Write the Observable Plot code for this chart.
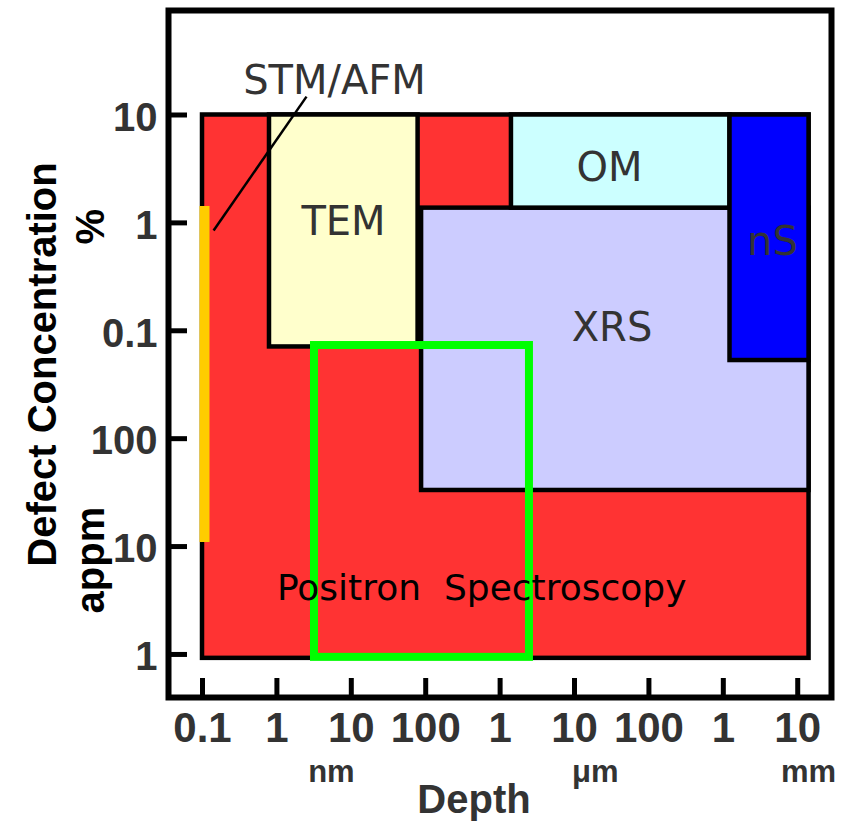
<!DOCTYPE html>
<html>
<head>
<meta charset="utf-8">
<script src="https://cdn.jsdelivr.net/npm/d3@7"></script>
<script src="https://cdn.jsdelivr.net/npm/@observablehq/plot@0.6"></script>
<style>
  html, body { margin: 0; padding: 0; background: #fff; }
  #chart svg { display: block; }
  #chart svg text { white-space: pre; }
</style>
</head>
<body>
<div id="chart"></div>
<script>
// ---------- Data ----------
// Depth axis (metres, log scale)
const depthTicks = [1e-10, 1e-9, 1e-8, 1e-7, 1e-6, 1e-5, 1e-4, 1e-3, 1e-2];
const depthTickLabels = ["0.1", "1", "10", "100", "1", "10", "100", "1", "10"];
const depthUnits = ["nm", "μm", "mm"];
const depthUnitAt = [5.4e-9, 1.9e-5, 1.4e-2];

// Defect concentration axis (atomic fraction, log scale)
const concTicks = [1e-1, 1e-2, 1e-3, 1e-4, 1e-5, 1e-6];
const concTickLabels = ["10", "1", "0.1", "100", "10", "1"];
const concUnits = ["%", "appm"];
const concUnitAt = [9.2e-3, 7.5e-6];

// Technique regions (depth range x concentration range)
const techniques = ["Positron Spectroscopy", "XRS", "OM", "TEM", "nS"];
const depthFrom = [1.0e-10, 8.8e-8, 1.42e-6, 7.95e-10, 1.23e-3];
const depthTo   = [1.42e-2, 1.42e-2, 1.23e-3, 7.9e-8, 1.42e-2];
const concHigh  = [0.1, 1.37e-2, 0.1, 0.1, 0.1];
const concLow   = [9.2e-7, 3.31e-5, 1.37e-2, 7.08e-4, 5.3e-4];

// Region labels
const labelNames = ["STM/AFM", "TEM", "OM", "nS", "XRS"];
const labelDepth = [5.94e-9, 7.85e-9, 2.95e-5, 4.58e-3, 3.19e-5];
const labelConc  = [0.158, 7.64e-3, 2.42e-2, 4.99e-3, 7.96e-4];
const positronLabel = "Positron\u00a0\u00a0Spectroscopy";
const positronDepth = 1e-9;
const positronConc = 3.17e-6;

// STM/AFM pointer line
const stmDepth = [1.41e-10, 2.5e-9];
const stmConc  = [8.5e-3, 0.148];

// Yellow bar (surface technique at 0.1 nm)
const barDepth = 1e-10;
const barConc  = [1.42e-2, 1.09e-5];

// Green highlighted window
const greenDepth = [3.2e-9, 2.48e-6];
const greenConc  = [7.3e-4, 9.4e-7];

// ---------- Styles ----------
const techColors = ["#ff3333", "#ccccff", "#ccffff", "#ffffcc", "#0000ff"];

// ---------- Tables ----------
const regions = techniques.map((t, i) => ({
  name: t, x1: depthFrom[i], x2: depthTo[i], y1: concHigh[i], y2: concLow[i], color: techColors[i]
}));
const labels = labelNames.map((n, i) => ({name: n, depth: labelDepth[i], conc: labelConc[i]}));
const xLabelMap = new Map(depthTicks.map((t, i) => [t, depthTickLabels[i]]));
const yLabelMap = new Map(concTicks.map((t, i) => [t, concTickLabels[i]]));
const xUnits = depthUnits.map((u, i) => ({u, at: depthUnitAt[i]}));
const yUnits = concUnits.map((u, i) => ({u, at: concUnitAt[i]}));

const sans = "Liberation Sans, Arial, Helvetica, sans-serif";
const dejavu = "DejaVu Sans, sans-serif";

const chart = Plot.plot({
  width: 843,
  height: 822,
  marginLeft: 168,
  marginRight: 12,
  marginTop: 10,
  marginBottom: 125,
  style: {fontFamily: sans, background: "#fff", overflow: "visible"},
  x: {type: "log", domain: [10 ** -10.457, 10 ** -1.546]},
  y: {type: "log", domain: [10 ** -6.399, 10 ** -0.0315]},
  color: {type: "identity"},
  marks: [
    Plot.rect(regions, {x1: "x1", x2: "x2", y1: "y1", y2: "y2", fill: "color", stroke: "#000", strokeWidth: 4.5}),
    Plot.ruleX([barDepth], {x: d => d, y1: barConc[0], y2: barConc[1], stroke: "#ffcc00", strokeWidth: 10, dx: 2}),
    Plot.link([0], {x1: () => stmDepth[0], y1: () => stmConc[0], x2: () => stmDepth[1], y2: () => stmConc[1], stroke: "#000", strokeWidth: 2.5}),
    Plot.rect([0], {x1: () => greenDepth[0], x2: () => greenDepth[1], y1: () => greenConc[0], y2: () => greenConc[1], fill: "none", stroke: "#00ff00", strokeWidth: 8}),
    Plot.text(labels, {x: "depth", y: "conc", text: "name", fontFamily: dejavu, fontSize: 40, fill: "#333", lineAnchor: "bottom"}),
    Plot.text([positronLabel], {x: () => positronDepth, y: () => positronConc, text: d => d, textAnchor: "start", fontFamily: dejavu, fontSize: 36, fill: "#000", lineAnchor: "bottom"}),
    Plot.frame({stroke: "#000", strokeWidth: 6}),
    // ticks (inward)
    Plot.axisX({ticks: depthTicks, anchor: "bottom", tickSize: -19, strokeWidth: 5, stroke: "#000", fill: "none", label: null}),
    Plot.axisY({ticks: concTicks, anchor: "left", tickSize: -19, strokeWidth: 5, stroke: "#000", fill: "none", label: null}),
    // tick labels
    Plot.axisX({ticks: depthTicks, anchor: "bottom", tickSize: 0, tickPadding: 15, tickFormat: d => xLabelMap.get(d), fontSize: 42, fontWeight: "bold", fill: "#333", label: null}),
    Plot.axisY({ticks: concTicks, anchor: "left", tickSize: 0, tickPadding: 11, dy: 3, tickFormat: d => yLabelMap.get(d), fontSize: 40, fontWeight: "bold", fill: "#333", label: null}),
    // units & titles
    Plot.text(xUnits, {x: "at", text: "u", frameAnchor: "bottom", dy: 84, lineAnchor: "bottom", fontSize: 31, fontWeight: "bold", fill: "#333"}),
    Plot.text(["Depth"], {text: d => d, frameAnchor: "bottom", dx: -26, dy: 115, lineAnchor: "bottom", fontSize: 40, fontWeight: "bold", fill: "#333"}),
    Plot.text(yUnits, {y: "at", text: "u", frameAnchor: "left", textAnchor: "middle", rotate: -90, dx: -65, lineAnchor: "bottom", fontSize: 40, fontWeight: "bold", fill: "#000"}),
    Plot.text(["Defect Concentration"], {text: d => d, frameAnchor: "left", textAnchor: "middle", rotate: -90, dx: -113, dy: 10.5, lineAnchor: "bottom", fontSize: 40, fontWeight: "bold", fill: "#000"})
  ]
});

document.getElementById("chart").appendChild(chart);
</script>
</body>
</html>
